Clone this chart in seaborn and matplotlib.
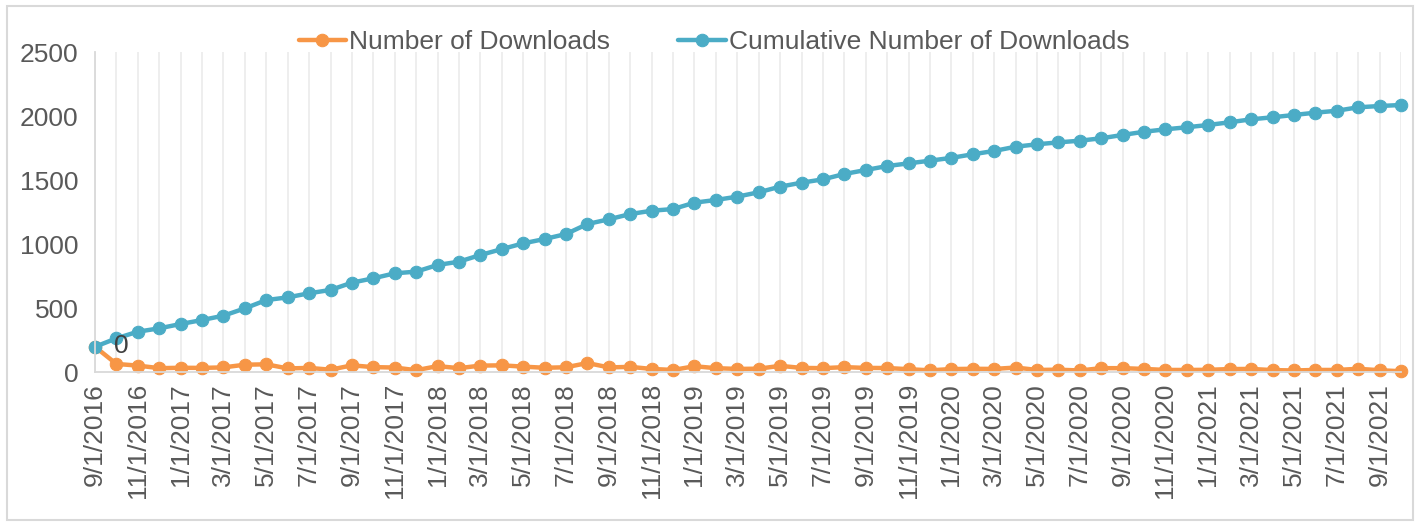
import matplotlib
matplotlib.use("Agg")
import matplotlib.pyplot as plt
import matplotlib.patches as mpatches
import seaborn as sns
import pandas as pd
import numpy as np

# monthly data, 9/1/2016 .. 10/1/2021
months = pd.date_range("2016-09-01", "2021-10-01", freq="MS")
month_labels = [f"{d.month}/1/{d.year}" for d in months]

downloads = [197, 63, 50, 30, 33, 32, 36, 57, 60, 28,
             32, 18, 52, 38, 35, 14, 46, 30, 50, 52,
             42, 33, 37, 70, 36, 40, 24, 16, 45, 30,
             24, 26, 48, 32, 30, 38, 32, 31, 22, 13,
             23, 25, 24, 35, 16, 18, 12, 30, 30, 24,
             16, 16, 17, 23, 24, 15, 12, 16, 16, 25,
             14, 6]

cumulative = [197, 263, 315, 341, 375, 406, 440, 497, 562, 583,
              615, 641, 698, 732, 771, 784, 836, 862, 914, 960,
              1005, 1039, 1078, 1156, 1193, 1234, 1260, 1273, 1323, 1344,
              1370, 1404, 1448, 1479, 1505, 1547, 1578, 1609, 1630, 1651,
              1673, 1701, 1727, 1760, 1779, 1794, 1807, 1826, 1852, 1877,
              1896, 1912, 1930, 1951, 1974, 1990, 2008, 2026, 2041, 2068,
              2078, 2086]

sns.set_style("white")
plt.rcParams['font.family'] = ['Liberation Sans', 'DejaVu Sans']

orange = '#F79646'
aqua = '#4BACC6'
text_col = '#595959'
axis_col = '#D9D9D9'

df = pd.DataFrame({'idx': np.arange(len(months)),
                   'Number of Downloads': downloads,
                   'Cumulative Number of Downloads': cumulative})

fig = plt.figure(figsize=(14.19, 5.22), dpi=100)
ax = fig.add_axes([95 / 1419, 1 - 372 / 522, (1401 - 95) / 1419, 320 / 522])

sns.lineplot(data=df, x='idx', y='Number of Downloads', ax=ax, color=orange,
             marker='o', markersize=9, markeredgecolor=orange, linewidth=3.2,
             label='Number of Downloads', clip_on=False)
sns.lineplot(data=df, x='idx', y='Cumulative Number of Downloads', ax=ax, color=aqua,
             marker='o', markersize=9, markeredgecolor=aqua, linewidth=3.2,
             label='Cumulative Number of Downloads', clip_on=False)

# data label on the second point
ax.annotate('0', (1, cumulative[1]), xytext=(5, -8), textcoords='offset pixels',
            ha='center', va='center', fontsize=19, color='#404040')

ax.set_xlim(0, len(months) - 1)
ax.set_ylim(0, 2500)
ax.set_yticks([0, 500, 1000, 1500, 2000, 2500])
ax.set_xticks(df['idx'])
ax.set_xticklabels([lab if i % 2 == 0 else '' for i, lab in enumerate(month_labels)],
                   rotation=90, ha='center', va='top')
ax.tick_params(axis='x', length=5, width=1, color=axis_col, labelsize=19,
               labelcolor=text_col, pad=3, direction='out')
ax.tick_params(axis='y', length=0, labelsize=19, labelcolor=text_col, pad=12)
ax.set_xlabel('')
ax.set_ylabel('')

ax.grid(axis='x', color='#EBEBEB', linewidth=1.2)
ax.set_axisbelow(True)
for s in ['top', 'right']:
    ax.spines[s].set_visible(False)
ax.spines['left'].set_color(axis_col)
ax.spines['bottom'].set_color(axis_col)
ax.spines['left'].set_linewidth(1.3)
ax.spines['bottom'].set_linewidth(1.3)

ax.legend_.remove()
handles, labels = ax.get_legend_handles_labels()
fig.legend(handles, labels, loc='center', bbox_to_anchor=(714 / 1419, 1 - 42 / 522),
           ncol=2, frameon=False, fontsize=19, handlelength=1.8, handletextpad=0.1,
           columnspacing=2.6, labelcolor=text_col)

# chart area border
fig.patches.append(mpatches.Rectangle((7 / 1419, 2 / 522), 1406 / 1419, 514 / 522,
                                      transform=fig.transFigure, fill=False,
                                      edgecolor=axis_col, linewidth=1.5))

fig.savefig('out.png', dpi=100)
